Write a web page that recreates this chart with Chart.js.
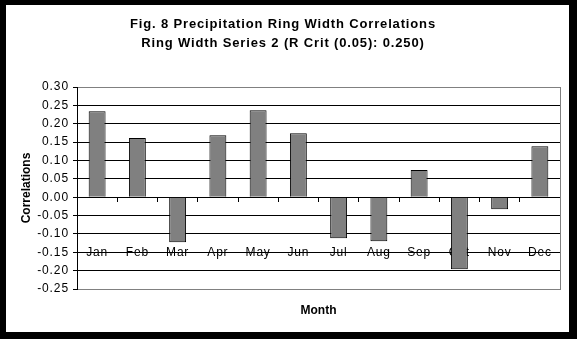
<!DOCTYPE html>
<html>
<head>
<meta charset="utf-8">
<script src="https://cdn.jsdelivr.net/npm/chart.js@4"></script>
<style>
  html, body { margin: 0; padding: 0; background: #000; }
  canvas { display: block; }
</style>
</head>
<body>
<canvas id="c" width="577" height="339"></canvas>
<script>
const months = ['Jan','Feb','Mar','Apr','May','Jun','Jul','Aug','Sep','Oct','Nov','Dec'];
const correlations = [0.234, 0.161, -0.123, 0.169, 0.237, 0.174, -0.112, -0.120, 0.074, -0.196, -0.033, 0.139];
const titleLines = ['Fig. 8 Precipitation Ring Width Correlations', 'Ring Width Series 2 (R Crit (0.05): 0.250)'];
const xTitle = 'Month';
const yTitle = 'Correlations';
const yMin = -0.25, yMax = 0.30, yStep = 0.05;

const FONT = "Arial, 'Liberation Sans', sans-serif";

function withSpacing(obj, method, spacing) {
  if (!obj || obj['_ls_' + method]) return;
  const orig = obj[method];
  obj[method] = function (...args) {
    const ctx = this.ctx;
    const prev = ctx.letterSpacing;
    ctx.letterSpacing = spacing;
    const r = orig.apply(this, args);
    ctx.letterSpacing = prev || '0px';
    return r;
  };
  obj['_ls_' + method] = true;
}

const framePlugin = {
  id: 'frame',
  beforeDraw(chart) {
    const ctx = chart.ctx;
    ctx.save();
    ctx.fillStyle = '#000';
    ctx.fillRect(0, 0, chart.width, chart.height);
    ctx.fillStyle = '#fff';
    ctx.fillRect(6, 5, chart.width - 14, chart.height - 12);
    ctx.restore();
  },
  afterLayout(chart) {
    withSpacing(chart.titleBlock, 'draw', '0.85px');
    withSpacing(chart.scales.x, 'drawLabels', '0.8px');
    withSpacing(chart.scales.y, 'drawLabels', '0.9px');
  }
};

new Chart(document.getElementById('c'), {
  type: 'bar',
  data: {
    labels: months,
    datasets: [{
      data: correlations,
      backgroundColor: '#808080',
      borderColor: '#000',
      borderWidth: 1,
      barPercentage: 0.42,
      categoryPercentage: 1
    }]
  },
  options: {
    responsive: false,
    devicePixelRatio: 1,
    animation: false,
    layout: { padding: { left: 6, right: 17, top: 0, bottom: 0 } },
    plugins: {
      legend: { display: false },
      tooltip: { enabled: false },
      title: {
        display: true,
        text: titleLines,
        color: '#000',
        font: { family: FONT, size: 13, weight: 'bold', lineHeight: 1.44 },
        padding: { top: 15.5, bottom: 34.1 }
      },
      subtitle: {
        display: true,
        position: 'bottom',
        fullSize: false,
        text: xTitle,
        color: '#000',
        font: { family: FONT, size: 12, weight: 'bold', lineHeight: 1.2 },
        padding: { top: 14.3, bottom: 21.3 }
      }
    },
    scales: {
      x: {
        position: { y: 0 },
        offset: true,
        afterFit(scale) { scale.paddingLeft = 0; scale.paddingRight = 0; },
        grid: { offset: true, drawOnChartArea: false, drawTicks: true, tickLength: 4, color: '#000' },
        border: { color: '#000', width: 1 },
        ticks: { padding: 44, color: '#000', font: { family: FONT, size: 12 }, maxRotation: 0, autoSkip: false }
      },
      y: {
        min: yMin,
        max: yMax,
        afterFit(scale) { scale.width = 71; },
        ticks: {
          stepSize: yStep,
          padding: 4,
          color: '#000',
          font: { family: FONT, size: 12 },
          callback: v => Number(v).toFixed(2)
        },
        grid: {
          color: ctx => (ctx.index === 0 || (ctx.tick && Math.abs(ctx.tick.value - yMax) < 1e-6)) ? '#808080' : '#000',
          tickColor: '#000',
          tickLength: 4,
          drawTicks: true
        },
        border: { color: '#000', width: 1 },
        title: {
          display: true,
          text: yTitle,
          color: '#000',
          font: { family: FONT, size: 12, weight: 'bold' },
          padding: { top: 13, bottom: 0 }
        }
      },
      y2: {
        position: 'right',
        min: yMin,
        max: yMax,
        afterFit(scale) { scale.width = 0; },
        grid: { display: false, drawTicks: false },
        ticks: { display: false },
        border: { color: '#808080', width: 1 }
      }
    }
  },
  plugins: [framePlugin]
});
</script>
</body>
</html>
